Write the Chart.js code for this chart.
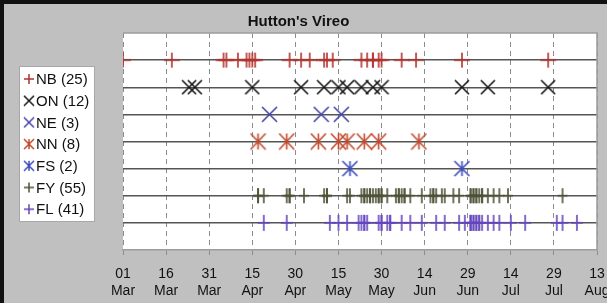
<!DOCTYPE html>
<html>
<head>
<meta charset="utf-8">
<script src="https://cdn.jsdelivr.net/npm/chart.js@4"></script>
<style>
    html, body { margin: 0; padding: 0; background: #c0c0c0; overflow: hidden; }
    #wrap { width: 607px; height: 303px; }
    canvas { display: block; }
</style>
</head>
<body>
<div id="wrap"><canvas id="vireo-chart" width="607" height="303"></canvas></div>
<script>
// days counted from 01 Mar
const tickDays = [0, 15, 30, 45, 60, 75, 90, 105, 120, 135, 150, 165];
const tickLabels = [
    ['01', 'Mar'], ['16', 'Mar'], ['31', 'Mar'], ['15', 'Apr'], ['30', 'Apr'], ['15', 'May'],
    ['30', 'May'], ['14', 'Jun'], ['29', 'Jun'], ['14', 'Jul'], ['29', 'Jul'], ['13', 'Aug']
];

const seriesNames = ['NB', 'ON', 'NE', 'NN', 'FS', 'FY', 'FL'];
const seriesCounts = [25, 12, 3, 8, 2, 55, 41];
const seriesRows = [7, 6, 5, 4, 3, 2, 1];

const nbDays = [0, 17, 35, 36, 40, 43, 44, 45, 46, 58, 62, 65, 70, 71, 73, 83, 85, 87, 87, 89, 90, 97, 102, 118, 148];
const onDays = [23, 25, 45, 62, 70, 75, 78, 83, 87, 90, 118, 127, 148];
const neDays = [51, 69, 76];
const nnDays = [47, 57, 68, 75, 78, 84, 89, 103];
const fsDays = [79, 118];
const fyDays = [47, 47, 49, 57, 58, 58, 63, 70, 71, 71, 78, 79, 83, 84, 84, 85, 86, 86, 87, 88, 89, 89, 90, 90,
    92, 95, 96, 96, 97, 98, 98, 100, 104, 107, 108, 108, 109, 111, 112, 115, 117, 121, 121, 122, 122, 123,
    123, 124, 125, 125, 127, 129, 131, 134, 153];
const flDays = [49, 57, 72, 75, 78, 82, 83, 84, 84, 85, 89, 90, 90, 92, 93, 93, 97, 100, 104, 109, 112, 117,
    119, 121, 121, 121, 122, 122, 123, 123, 124, 124, 125, 127, 129, 131, 135, 140, 151, 153, 158];

const allDays = [nbDays, onDays, neDays, nnDays, fsDays, fyDays, flDays];

// marker look for each series
const markerTypes = ['plus', 'x', 'x', 'star', 'star', 'plus', 'plus'];
const markerColors = ['#b3332e', '#151515', '#4545a8', '#c4482a', '#3a4cc0', '#4d5236', '#6446bd'];
const markerSizes = [[16, 15], [14, 14], [15, 15], [15, 16], [15, 15], [10, 15], [12, 16]];

function makeMarker(type, color, w, h, lw) {
    const c = document.createElement('canvas');
    c.width = w + 2;
    c.height = h + 2;
    const ctx = c.getContext('2d');
    ctx.strokeStyle = color;
    ctx.lineWidth = lw;
    const cx = c.width / 2, cy = c.height / 2;
    ctx.beginPath();
    if (type === 'plus') {
        ctx.moveTo(cx - w / 2, cy); ctx.lineTo(cx + w / 2, cy);
        ctx.moveTo(cx, cy - h / 2); ctx.lineTo(cx, cy + h / 2);
    } else {
        ctx.moveTo(cx - w / 2, cy - h / 2); ctx.lineTo(cx + w / 2, cy + h / 2);
        ctx.moveTo(cx + w / 2, cy - h / 2); ctx.lineTo(cx - w / 2, cy + h / 2);
        if (type === 'star') {
            ctx.moveTo(cx, cy - h / 2); ctx.lineTo(cx, cy + h / 2);
        }
    }
    ctx.stroke();
    return c;
}

const chartMarkers = markerTypes.map((t, i) => makeMarker(t, markerColors[i], markerSizes[i][0], markerSizes[i][1], 1.6));
const legendMarkers = markerTypes.map((t, i) => makeMarker(t, markerColors[i], 10, 10, 1.5));

const datasets = seriesNames.map((name, i) => ({
    label: `${name} (${seriesCounts[i]})`,
    data: allDays[i].map(d => ({ x: d, y: seriesRows[i] })),
    pointStyle: chartMarkers[i],
    pointRadius: 8,
    showLine: false,
}));

// background, white plot area, frame, legend
const framePlugin = {
    id: 'frame',
    beforeDraw(chart) {
        const { ctx, chartArea: a, width, height } = chart;
        ctx.save();
        ctx.fillStyle = '#c0c0c0';
        ctx.fillRect(0, 0, width, height);
        ctx.fillStyle = '#111';
        ctx.fillRect(0, 0, width, 4);
        ctx.fillRect(0, 0, 4, height);
        ctx.fillStyle = '#ffffff';
        ctx.fillRect(a.left, a.top, a.right - a.left, a.bottom - a.top);
        ctx.restore();
    },
    beforeDatasetsDraw(chart) {
        const { ctx, chartArea: a } = chart;
        ctx.save();
        ctx.strokeStyle = '#9c9c9c';
        ctx.lineWidth = 1.5;
        ctx.beginPath();
        ctx.moveTo(a.left, a.top); ctx.lineTo(a.right, a.top); ctx.lineTo(a.right, a.bottom);
        ctx.stroke();
        ctx.restore();
    },
    afterDraw(chart) {
        const { ctx } = chart;
        ctx.save();
        ctx.fillStyle = '#ffffff';
        ctx.strokeStyle = '#a8a8a8';
        ctx.lineWidth = 1;
        ctx.fillRect(19.5, 66.5, 75, 155);
        ctx.strokeRect(19.5, 66.5, 75, 155);
        ctx.font = '15px "Liberation Sans", Arial, sans-serif';
        ctx.fillStyle = '#111';
        ctx.textBaseline = 'middle';
        chart.data.datasets.forEach((ds, i) => {
            const y = 79 + i * 21.7;
            const m = legendMarkers[i];
            ctx.drawImage(m, 29 - m.width / 2, y - m.height / 2);
            ctx.fillText(ds.label, 36, y + 1);
        });
        ctx.restore();
    }
};

new Chart(document.getElementById('vireo-chart'), {
    type: 'scatter',
    data: { datasets },
    plugins: [framePlugin],
    options: {
        responsive: false,
        animation: false,
        layout: { padding: { left: 0, right: 10, top: 0, bottom: 0 } },
        plugins: {
            legend: { display: false },
            tooltip: { enabled: false },
            title: {
                display: true,
                text: "Hutton's Vireo",
                color: '#111',
                font: { family: '"Liberation Sans", Arial, sans-serif', size: 15, weight: 'bold' },
                padding: { top: 13, bottom: 2 },
            }
        },
        scales: {
            x: {
                type: 'linear',
                min: 0,
                max: 165,
                afterBuildTicks: scale => { scale.ticks = tickDays.map(v => ({ value: v })); },
                afterFit: scale => { scale.height = 53; scale.paddingLeft = 0; scale.paddingRight = 0; },
                ticks: {
                    autoSkip: false,
                    maxRotation: 0,
                    padding: 10,
                    color: '#111',
                    font: { family: '"Liberation Sans", Arial, sans-serif', size: 14, lineHeight: 1.25 },
                    callback: (v, i) => tickLabels[i],
                },
                grid: { color: '#8c8c8c', lineWidth: 1, tickLength: 5, tickColor: '#8c8c8c' },
                border: { display: true, color: '#9c9c9c', width: 1.5, dash: [5, 4] },
            },
            y: {
                min: 0,
                max: 8,
                afterBuildTicks: scale => { scale.ticks = seriesRows.map(v => ({ value: v })); },
                afterFit: scale => { scale.width = 123; },
                ticks: { display: false },
                grid: { color: '#555555', lineWidth: 1.5, drawTicks: false },
                border: { display: false },
            }
        }
    }
});
</script>
</body>
</html>
